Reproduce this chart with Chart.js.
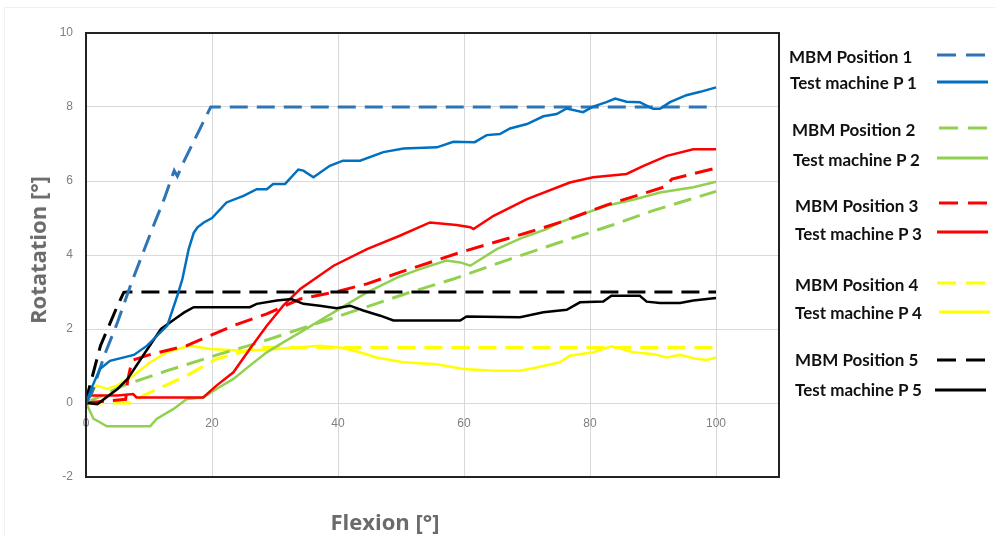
<!DOCTYPE html>
<html>
<head>
<meta charset="utf-8">
<script src="https://cdn.jsdelivr.net/npm/chart.js@4.4.1/dist/chart.umd.min.js"></script>
<style>
  html, body { margin: 0; padding: 0; background: #fff; }
  #wrap { position: relative; width: 1001px; height: 541px; overflow: hidden; }
  #frameOuter { position: absolute; left: 4px; top: 7px; width: 990px; height: 528px; border: 1px solid #f0f0f0; border-right: none; border-bottom: none; }
  #chart { position: absolute; left: 0; top: 0; }
  .lg { position: absolute; font: bold 17px Lato, sans-serif; color: #111; white-space: nowrap; line-height: 20px; transform: translateY(-50%); }
  .axt { position: absolute; font: bold 22px "Open Sans", sans-serif; color: #6b6b6b; white-space: nowrap; }
  #legendSvg { position: absolute; left: 0; top: 0; }
</style>
</head>
<body>
<div id="wrap">
  <div id="frameOuter"></div>
  <canvas id="chart" width="1001" height="541"></canvas>
  <div class="axt" id="yTitle" style="left:37px; top:250px; transform: translate(-50%,-50%) rotate(-90deg);">Rotatation [°]</div>
  <div class="axt" id="xTitle" style="left:385px; top:521px; transform: translate(-50%,-50%);">Flexion [°]</div>
  <svg id="legendSvg" width="1001" height="541"></svg>
</div>
<script>
// x = Flexion [°], y = Rotation [°]
const mbm1X = [0, 1, 2.9, 5, 7.35, 10.5, 12.4, 14, 14.5, 15.6, 18.2, 19.8, 100];
const mbm1Y = [0, 0.3, 1.28, 2.18, 3.31, 4.7, 5.51, 6.28, 6.13, 6.55, 7.45, 8, 8];

const tm1X = [0, 1, 2.2, 3.8, 7.6, 9.7, 12.9, 14.5, 15.3, 16.3, 17.1, 17.7, 18.7, 20, 22.3, 25, 27.1, 28.7, 29.7, 31.6, 33.7, 34.5, 36.1, 38.7, 40.8, 43.5, 47.2, 50.4, 55.7, 58.3, 61.7, 63.6, 65.7, 67.3, 70, 72.6, 74.7, 76.3, 78.9, 80.5, 82.6, 84, 85.8, 87.9, 90, 91.1, 92.7, 95.3, 97.5, 100];
const tm1Y = [0, 0.45, 0.92, 1.14, 1.3, 1.55, 2.09, 2.9, 3.35, 4.16, 4.6, 4.75, 4.88, 5.0, 5.42, 5.6, 5.78, 5.78, 5.92, 5.92, 6.31, 6.28, 6.1, 6.41, 6.55, 6.55, 6.78, 6.88, 6.91, 7.06, 7.05, 7.24, 7.27, 7.42, 7.54, 7.75, 7.81, 7.96, 7.86, 8.01, 8.13, 8.23, 8.14, 8.13, 7.95, 7.95, 8.13, 8.32, 8.41, 8.53];

const mbm2X = [0, 5.9, 13, 20.8, 27.6, 35.6, 43.5, 51.4, 58.3, 67.3, 75, 83.2, 90, 100];
const mbm2Y = [0, 0.47, 0.88, 1.3, 1.64, 2.09, 2.54, 2.99, 3.35, 3.89, 4.33, 4.79, 5.2, 5.72];

const tm2X = [0, 0.3, 1.2, 2, 3.3, 10.2, 11.2, 13.9, 16, 18.6, 20.7, 23.4, 26, 28.7, 31.3, 34, 39.3, 44.6, 49.8, 53, 57.2, 59.4, 61, 65.2, 69, 73.1, 75.2, 78, 82.6, 87, 91.1, 96.4, 100];
const tm2Y = [0, -0.1, -0.43, -0.5, -0.63, -0.63, -0.43, -0.16, 0.11, 0.15, 0.38, 0.65, 1.01, 1.37, 1.64, 1.91, 2.45, 2.99, 3.42, 3.62, 3.85, 3.8, 3.71, 4.16, 4.45, 4.7, 4.88, 5.05, 5.33, 5.5, 5.69, 5.83, 5.98];

const mbm3X = [0, 6.3, 6.6, 7.3, 10, 16, 23.4, 28.7, 34, 39.3, 44.6, 49.8, 59.4, 70, 75.2, 82.6, 92, 93, 100];
const mbm3Y = [0, 0.1, 0.6, 1.15, 1.3, 1.55, 2.09, 2.41, 2.81, 2.99, 3.22, 3.53, 4.07, 4.6, 4.88, 5.35, 5.85, 6.05, 6.35];

const tm3X = [0, 0.6, 5, 7.5, 8, 10.2, 18.6, 20.7, 23.4, 26, 28.7, 31.3, 34, 39.3, 44.6, 49.8, 54.6, 58.8, 61, 61.5, 64.7, 70, 76.8, 80.5, 85.8, 88.5, 92.2, 96.4, 100];
const tm3Y = [0, 0.2, 0.2, 0.24, 0.15, 0.15, 0.15, 0.47, 0.83, 1.46, 2.09, 2.63, 3.08, 3.71, 4.16, 4.52, 4.88, 4.81, 4.75, 4.7, 5.06, 5.51, 5.96, 6.1, 6.19, 6.41, 6.68, 6.86, 6.86];

const mbm4X = [0, 7.5, 9.1, 16, 20.7, 26.6, 28, 100];
const mbm4Y = [0, 0, 0.2, 0.74, 1.19, 1.46, 1.5, 1.5];

const tm4X = [0, 1, 1.7, 3.3, 4.9, 7.5, 10.2, 12.8, 16.5, 19.7, 25, 30.3, 37.1, 40.3, 43.5, 46.1, 50.4, 55.7, 59.9, 64.7, 68.9, 71.5, 75.2, 76.8, 80.5, 83.4, 86.9, 90.1, 92.2, 94.3, 96.4, 98.5, 100];
const tm4Y = [0, 0.3, 0.47, 0.38, 0.47, 0.74, 1.1, 1.37, 1.55, 1.46, 1.41, 1.46, 1.55, 1.5, 1.37, 1.23, 1.1, 1.05, 0.92, 0.87, 0.87, 0.96, 1.1, 1.28, 1.37, 1.53, 1.37, 1.32, 1.23, 1.3, 1.21, 1.16, 1.23];

const mbm5X = [0, 0.2, 2.3, 5, 6, 6.5, 100];
const mbm5Y = [0, 0.2, 1.55, 2.63, 2.99, 3, 3];

const tm5X = [0, 0.2, 1.8, 5, 6.6, 8.7, 11.9, 14.5, 15.6, 17.1, 20.8, 26, 27.1, 30.3, 32.6, 34.5, 37.1, 39.8, 41.9, 44, 46.7, 48.8, 59.4, 60.4, 68.9, 72.6, 76.3, 78.4, 82.1, 83.4, 87.9, 89, 91.1, 94.3, 96.4, 100];
const tm5Y = [0, 0, -0.03, 0.38, 0.65, 1.19, 2.0, 2.32, 2.45, 2.59, 2.59, 2.59, 2.68, 2.77, 2.81, 2.68, 2.63, 2.56, 2.63, 2.5, 2.36, 2.23, 2.23, 2.34, 2.32, 2.45, 2.52, 2.72, 2.74, 2.9, 2.9, 2.74, 2.7, 2.7, 2.77, 2.84];

const seriesLabels = ["MBM Position 1", "Test machine P 1", "MBM Position 2", "Test machine P 2", "MBM Position 3", "Test machine P 3", "MBM Position 4", "Test machine P 4", "MBM Position 5", "Test machine P 5"];
const xTicks = [0, 20, 40, 60, 80, 100];
const yTicks = [-2, 0, 2, 4, 6, 8, 10];

const BLUE_D = "#2E75B6", BLUE = "#0070C0", GREEN = "#92D050", RED = "#FF0000", YELLOW = "#FFFF00", BLACK = "#000000";
const DASH = [18, 9];

function pts(xs, ys) {
  return xs.map((x, i) => ({ x: x, y: ys[i] }));
}

function mbm(label, xs, ys, color) {
  return { label, data: pts(xs, ys), borderColor: color, borderWidth: 3, borderDash: DASH, pointRadius: 0, fill: false };
}
function tm(label, xs, ys, color) {
  return { label, data: pts(xs, ys), borderColor: color, borderWidth: 2.5, pointRadius: 0, fill: false };
}

// index 0 is drawn on top
const datasets = [
  tm(seriesLabels[1], tm1X, tm1Y, BLUE),
  mbm(seriesLabels[0], mbm1X, mbm1Y, BLUE_D),
  tm(seriesLabels[9], tm5X, tm5Y, BLACK),
  mbm(seriesLabels[8], mbm5X, mbm5Y, BLACK),
  tm(seriesLabels[5], tm3X, tm3Y, RED),
  mbm(seriesLabels[4], mbm3X, mbm3Y, RED),
  tm(seriesLabels[3], tm2X, tm2Y, GREEN),
  mbm(seriesLabels[2], mbm2X, mbm2Y, GREEN),
  tm(seriesLabels[7], tm4X, tm4Y, YELLOW),
  mbm(seriesLabels[6], mbm4X, mbm4Y, YELLOW)
];

const plotFrame = {
  id: "plotFrame",
  afterDraw(chart) {
    const a = chart.chartArea, c = chart.ctx;
    c.save();
    c.strokeStyle = "#222";
    c.lineWidth = 2;
    c.strokeRect(a.left, a.top, a.right - a.left, a.bottom - a.top);
    c.restore();
  }
};

const tickFont = { family: "'Liberation Sans', Arial, sans-serif", size: 12 };

new Chart(document.getElementById("chart").getContext("2d"), {
  type: "line",
  data: { datasets },
  options: {
    responsive: false,
    animation: false,
    devicePixelRatio: 1,
    layout: { padding: { top: 33, right: 222, bottom: 64, left: 0 } },
    plugins: { legend: { display: false }, tooltip: { enabled: false } },
    elements: { line: { tension: 0 }, point: { radius: 0 } },
    scales: {
      x: {
        type: "linear", min: 0, max: 110,
        position: { y: 0 },
        afterBuildTicks(s) { s.ticks = xTicks.map(v => ({ value: v })); },
        ticks: { color: "#7f7f7f", font: tickFont, padding: 13, maxRotation: 0 },
        grid: { color: "#d9d9d9", lineWidth: 1, drawTicks: false },
        border: { display: false }
      },
      y: {
        min: -2, max: 10,
        afterBuildTicks(s) { s.ticks = yTicks.map(v => ({ value: v })); },
        afterFit(s) { s.width = 86; },
        ticks: { color: "#7f7f7f", font: tickFont, padding: 13 },
        grid: { color: "#d9d9d9", lineWidth: 1, drawTicks: false },
        border: { display: false }
      }
    }
  },
  plugins: [plotFrame]
});

// legend on the right
const legendColors = [BLUE_D, BLUE, GREEN, GREEN, RED, RED, YELLOW, YELLOW, BLACK, BLACK];
const legendRows = [
  { tx: 789, ty: 57, lx: 937, ly: 55 },
  { tx: 790, ty: 83, lx: 937, ly: 82 },
  { tx: 792, ty: 130, lx: 939, ly: 128 },
  { tx: 793, ty: 160, lx: 937, ly: 158 },
  { tx: 795, ty: 206, lx: 939, ly: 203 },
  { tx: 795, ty: 234, lx: 937, ly: 232 },
  { tx: 795, ty: 285, lx: 937, ly: 283 },
  { tx: 795, ty: 313, lx: 939, ly: 312 },
  { tx: 795, ty: 360, lx: 937, ly: 360 },
  { tx: 795, ty: 390, lx: 935, ly: 390 }
];
const wrap = document.getElementById("wrap");
const svg = document.getElementById("legendSvg");
legendRows.forEach((r, i) => {
  const d = document.createElement("div");
  d.className = "lg";
  d.style.left = r.tx + "px";
  d.style.top = r.ty + "px";
  d.textContent = seriesLabels[i];
  wrap.appendChild(d);
  const ln = document.createElementNS("http://www.w3.org/2000/svg", "line");
  ln.setAttribute("x1", r.lx);
  ln.setAttribute("x2", r.lx + 51);
  ln.setAttribute("y1", r.ly);
  ln.setAttribute("y2", r.ly);
  ln.setAttribute("stroke", legendColors[i]);
  ln.setAttribute("stroke-width", 3);
  if (i % 2 === 0) ln.setAttribute("stroke-dasharray", "19 10");
  svg.appendChild(ln);
});
</script>
</body>
</html>
